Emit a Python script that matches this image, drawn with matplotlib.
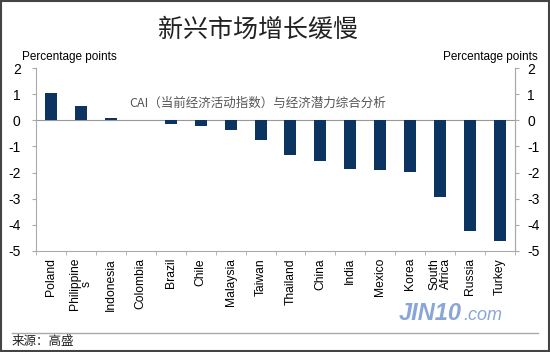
import numpy as np
import matplotlib.pyplot as plt
from matplotlib.patches import Rectangle

plt.rcParams['font.family'] = ['Liberation Sans', 'Noto Sans CJK SC', 'DejaVu Sans']

# data
countries = ['Poland', 'Philippine\ns', 'Indonesia', 'Colombia', 'Brazil', 'Chile',
             'Malaysia', 'Taiwan', 'Thailand', 'China', 'India', 'Mexico', 'Korea',
             'South\nAfrica', 'Russia', 'Turkey']
values = [1.05, 0.55, 0.08, 0.0, -0.16, -0.23, -0.37, -0.74, -1.34, -1.57, -1.85,
          -1.89, -1.98, -2.95, -4.22, -4.63]
yticks = [2, 1, 0, -1, -2, -3, -4, -5]

fig = plt.figure(figsize=(5.5, 3.52), dpi=100)
fig.patch.set_facecolor('white')

# outer frame
fig.add_artist(Rectangle((0.002, 0.003), 0.996, 0.994, transform=fig.transFigure,
                         fill=False, edgecolor='#444444', linewidth=1.5))

ax = fig.add_axes([36 / 550, 1 - 251 / 352, (515 - 36) / 550, (251 - 68) / 352])
x = np.arange(len(countries))
ax.bar(x, values, width=0.4, color='#0b3560', zorder=3)
ax.axhline(0, color='#999999', linewidth=0.8, zorder=2)

ax.set_ylim(-5, 2)
ax.set_xlim(-0.5, len(countries) - 0.5)
ax.set_yticks(yticks)
ax.set_yticklabels([str(t) for t in yticks], fontsize=10)
ax.tick_params(axis='y', direction='out', length=3, color='#aaaaaa', pad=8)

ax.set_xticks(x)
ax.set_xticklabels(countries, rotation=90, fontsize=8.7, va='top', ha='center',
                   linespacing=1.0)
ax.set_xticks(np.arange(len(countries) + 1) - 0.5, minor=True)
ax.tick_params(axis='x', which='major', length=0, pad=5)
ax.tick_params(axis='x', which='minor', length=3, color='#aaaaaa')

ax.spines['top'].set_visible(False)
for side in ['left', 'right', 'bottom']:
    ax.spines[side].set_color('#aaaaaa')
    ax.spines[side].set_linewidth(0.8)

ax2 = ax.twinx()
ax2.set_ylim(-5, 2)
ax2.set_yticks(yticks)
ax2.set_yticklabels([str(t) for t in yticks], fontsize=10)
ax2.tick_params(axis='y', direction='out', length=3, color='#aaaaaa', pad=6)
for side in ['top', 'left', 'bottom']:
    ax2.spines[side].set_visible(False)
ax2.spines['right'].set_color('#aaaaaa')
ax2.spines['right'].set_linewidth(0.8)

fig.text(258 / 550, 1 - 30 / 352, '新兴市场增长缓慢', ha='center', va='center',
         fontsize=18, family=['Noto Sans CJK SC'], fontweight='light', color='#222222')
fig.text(22 / 550, 1 - 57 / 352, 'Percentage points', ha='left', va='center', fontsize=8.5)
fig.text(538 / 550, 1 - 57 / 352, 'Percentage points', ha='right', va='center', fontsize=8.5)
fig.text(258 / 550, 1 - 103 / 352, 'CAI（当前经济活动指数）与经济潜力综合分析', ha='center',
         va='center', fontsize=9, color='#555555', fontweight='light',
         family=['Noto Sans CJK SC', 'DejaVu Sans'])

# watermark
fig.text(462 / 550, 1 - 314 / 352, 'JIN10', ha='right', va='center', fontsize=17,
         fontweight='bold', style='italic', color='#8aa6d8')
fig.text(463 / 550, 1 - 315 / 352, '.com', ha='left', va='center', fontsize=13,
         style='italic', color='#8aa6d8')

# bottom rule and source
fig.add_artist(plt.Line2D([12 / 550, 538 / 550], [1 - 333 / 352, 1 - 333 / 352],
                          transform=fig.transFigure, color='#aaaaaa', linewidth=1))
fig.text(12 / 550, 1 - 342 / 352, '来源：高盛', ha='left', va='center', fontsize=9,
         family=['Noto Sans CJK SC'], color='#222222')

fig.savefig('out.png', dpi=100)
